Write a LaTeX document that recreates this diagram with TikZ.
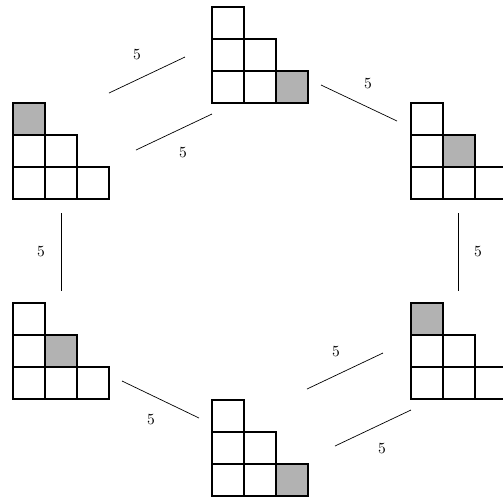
\documentclass[tikz,border=0pt]{standalone}
\usetikzlibrary{calc}
\tikzset{
  cell/.style={draw=black,line width=1pt,fill=white},
  hole/.style={cell,fill=black!30},
  bond/.style={line width=0.45pt,draw=black},
  weight/.style={inner sep=1pt,font=\normalsize}
}
% staircase tableau: #1,#2 top left corner, #3/#4 column/row of the grey box
\newcommand{\stair}[4]{%
  \foreach \r in {1,2,3}
    \foreach \c in {1,...,\r}
      \draw[cell] (#1+32*\c-32,#2+32*\r-32) rectangle ++(32,32);
  \draw[hole] (#1+32*#3-32,#2+32*#4-32) rectangle ++(32,32);}

\begin{document}
\begin{tikzpicture}[x=0.0227cm,y=-0.0227cm]
  \useasboundingbox (0,0) rectangle (503,499);
  % the six tableaux
  \stair{212}{7}{3}{3}
  \stair{13}{103}{1}{1}
  \stair{411}{103}{2}{2}
  \stair{13}{303}{2}{2}
  \stair{411}{303}{1}{1}
  \stair{212}{400}{3}{3}
  % ends of the bonds
  \coordinate (a1) at (109,93);  \coordinate (a2) at (185,57);
  \coordinate (b1) at (136,150); \coordinate (b2) at (212,114);
  \coordinate (c1) at (321,85);  \coordinate (c2) at (397,121);
  \coordinate (d1) at (61,213);  \coordinate (d2) at (61,291);
  \coordinate (e1) at (458,213); \coordinate (e2) at (458,291);
  \coordinate (f1) at (122,381); \coordinate (f2) at (199,418);
  \coordinate (g1) at (307,389); \coordinate (g2) at (383,353);
  \coordinate (h1) at (335,446); \coordinate (h2) at (411,410);
  \foreach \p in {a,b,c,d,e,f,g,h}
    \draw[bond] (\p1) -- (\p2);
  % weights
  \node[weight] (wa) at (137,55) {5};
  \node[weight] (wb) at (183,153) {5};
  \node[weight] (wc) at (368,84) {5};
  \node[weight] (wd) at (41,252) {5};
  \node[weight] (we) at (478,252) {5};
  \node[weight] (wf) at (151,420) {5};
  \node[weight] (wg) at (336,352) {5};
  \node[weight] (wh) at (382,449) {5};
\end{tikzpicture}
\end{document}
